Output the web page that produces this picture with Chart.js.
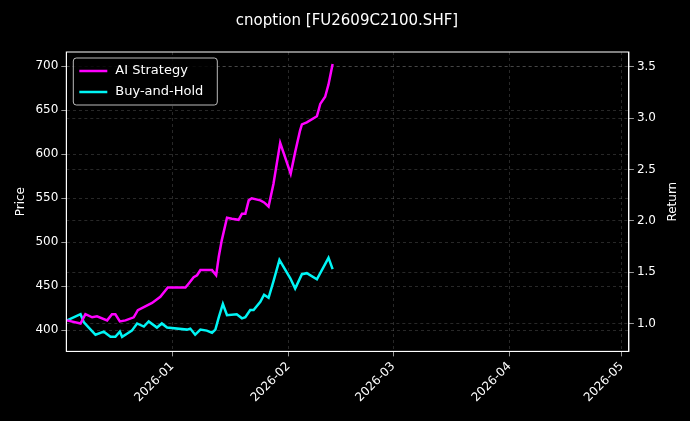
<!DOCTYPE html>
<html>
<head>
<meta charset="utf-8">
<script src="https://cdn.jsdelivr.net/npm/chart.js@4.4.0/dist/chart.umd.min.js"></script>
<style>
  html, body { margin: 0; padding: 0; background: #000; }
  #wrap { width: 690px; height: 421px; }
</style>
</head>
<body>
<div id="wrap"><canvas id="grafico"></canvas></div>
<script>
// days counted from 2026-01-01
const aiDays = [-28.1, -24.5, -23.2, -21.4, -20.1, -17.4, -16.1, -15.2, -14.0, -12.5, -10.3, -9.2, -7.6, -5.4, -3.2, -1.2, 3.5, 4.4, 5.7, 6.6, 7.5, 9.2, 10.6, 11.7, 12.4, 13.2, 14.6, 15.9, 17.7, 18.6, 19.5, 20.4, 21.2, 23.5, 24.5, 25.7, 27.0, 28.8, 31.6, 32.8, 34.1, 34.6, 35.9, 38.6, 39.5, 40.8, 41.7, 42.8];
const aiReturn = [1.03, 1.00, 1.09, 1.06, 1.07, 1.03, 1.09, 1.09, 1.02, 1.03, 1.06, 1.13, 1.16, 1.20, 1.26, 1.35, 1.35, 1.39, 1.45, 1.47, 1.52, 1.52, 1.52, 1.47, 1.65, 1.81, 2.03, 2.02, 2.01, 2.07, 2.07, 2.20, 2.22, 2.20, 2.18, 2.14, 2.36, 2.76, 2.46, 2.67, 2.88, 2.94, 2.96, 3.02, 3.14, 3.21, 3.33, 3.53];
const bhDays = [-28.1, -24.5, -23.6, -22.3, -20.5, -18.3, -16.5, -15.2, -14.0, -13.4, -12.1, -10.8, -9.4, -7.6, -6.3, -4.1, -2.8, -1.4, 3.9, 4.8, 6.1, 7.5, 9.2, 10.6, 11.5, 12.4, 13.5, 14.6, 17.2, 18.6, 19.5, 20.8, 21.7, 23.5, 24.5, 25.7, 27.0, 28.6, 31.5, 32.8, 34.6, 35.9, 38.6, 41.7, 42.8];
const bhReturn = [1.03, 1.09, 1.01, 0.96, 0.89, 0.92, 0.87, 0.87, 0.92, 0.87, 0.90, 0.93, 1.00, 0.97, 1.02, 0.96, 1.00, 0.96, 0.94, 0.95, 0.89, 0.94, 0.93, 0.91, 0.94, 1.06, 1.19, 1.08, 1.09, 1.05, 1.06, 1.13, 1.13, 1.21, 1.28, 1.25, 1.41, 1.62, 1.44, 1.34, 1.48, 1.49, 1.43, 1.64, 1.53];
const monthTicks = [0, 31, 59, 90, 120];
const monthLabels = ['2026-01', '2026-02', '2026-03', '2026-04', '2026-05'];
const priceTicks = [400, 450, 500, 550, 600, 650, 700];
const returnTicks = [1.0, 1.5, 2.0, 2.5, 3.0, 3.5];

const toXY = (xs, ys) => xs.map((x, i) => ({ x: x, y: ys[i] }));
const gridStyle = { color: 'rgba(150,150,150,0.45)', lineWidth: 0.6, tickColor: '#fff', tickLength: 5 };
const borderStyle = { color: '#fff', width: 1, dash: [3, 3] };

const frameAndLegend = {
    id: 'frameAndLegend',
    afterDraw(chart) {
        const ctx = chart.ctx;
        const a = chart.chartArea;
        ctx.save();
        ctx.strokeStyle = '#fff';
        ctx.lineWidth = 1;
        ctx.setLineDash([]);
        ctx.strokeRect(a.left, a.top, a.right - a.left, a.bottom - a.top);

        // right axis title, reading bottom to top like the left one
        ctx.save();
        ctx.translate(chart.scales.yR.right - 5, (a.top + a.bottom) / 2);
        ctx.rotate(-Math.PI / 2);
        ctx.fillStyle = '#fff';
        ctx.font = '12px "DejaVu Sans"';
        ctx.textAlign = 'center';
        ctx.textBaseline = 'bottom';
        ctx.fillText('Return', 0, 0);
        ctx.restore();

        const x = a.left + 7, y = a.top + 6;
        ctx.fillStyle = 'rgba(0,0,0,0.85)';
        ctx.strokeStyle = '#bbb';
        ctx.beginPath();
        ctx.roundRect(x, y, 144, 47, 3);
        ctx.fill();
        ctx.stroke();
        chart.data.datasets.forEach((ds, i) => {
            const ly = y + 13 + i * 21;
            ctx.strokeStyle = ds.borderColor;
            ctx.lineWidth = 2.5;
            ctx.beginPath();
            ctx.moveTo(x + 6, ly);
            ctx.lineTo(x + 34, ly);
            ctx.stroke();
            ctx.fillStyle = '#fff';
            ctx.font = '13px "DejaVu Sans"';
            ctx.textBaseline = 'middle';
            ctx.fillText(ds.label, x + 42, ly);
        });
        ctx.restore();
    }
};

const config = {
    type: 'line',
    data: {
        datasets: [{
            label: 'AI Strategy',
            data: toXY(aiDays, aiReturn),
            borderColor: '#ff00ff',
            borderWidth: 2.5,
            pointRadius: 0,
            yAxisID: 'yR'
        }, {
            label: 'Buy-and-Hold',
            data: toXY(bhDays, bhReturn),
            borderColor: '#00f5f5',
            borderWidth: 2.5,
            pointRadius: 0,
            yAxisID: 'yR'
        }]
    },
    options: {
        responsive: true,
        maintainAspectRatio: false,
        animation: false,
        layout: { padding: { left: 10, right: 6, top: 0, bottom: 13 } },
        plugins: {
            legend: { display: false },
            tooltip: { enabled: false },
            title: {
                display: true,
                text: 'cnoption [FU2609C2100.SHF]',
                color: '#fff',
                font: { family: 'DejaVu Sans', size: 15, weight: 'normal' },
                padding: { top: 12, bottom: 22 }
            }
        },
        scales: {
            x: {
                type: 'linear',
                min: -28.3,
                max: 121.9,
                afterBuildTicks: (axis) => { axis.ticks = monthTicks.map(v => ({ value: v })); },
                ticks: {
                    color: '#fff',
                    font: { family: 'DejaVu Sans', size: 12 },
                    minRotation: 45,
                    maxRotation: 45,
                    callback: (v) => monthLabels[monthTicks.indexOf(v)]
                },
                grid: gridStyle,
                border: borderStyle
            },
            y: {
                position: 'left',
                min: 376,
                max: 716,
                afterBuildTicks: (axis) => { axis.ticks = priceTicks.map(v => ({ value: v })); },
                ticks: { color: '#fff', font: { family: 'DejaVu Sans', size: 12 } },
                title: { display: true, text: 'Price', color: '#fff', font: { family: 'DejaVu Sans', size: 12 } },
                grid: gridStyle,
                border: borderStyle
            },
            yR: {
                position: 'right',
                min: 0.728,
                max: 3.646,
                afterBuildTicks: (axis) => { axis.ticks = returnTicks.map(v => ({ value: v })); },
                afterFit: (axis) => { axis.width += 25; },
                ticks: { color: '#fff', font: { family: 'DejaVu Sans', size: 12 }, callback: (v) => v.toFixed(1) },
                grid: gridStyle,
                border: borderStyle
            }
        }
    },
    plugins: [frameAndLegend]
};

let ctx = document.getElementById('grafico').getContext('2d');
window.myLine = new Chart(ctx, config);
</script>
</body>
</html>
